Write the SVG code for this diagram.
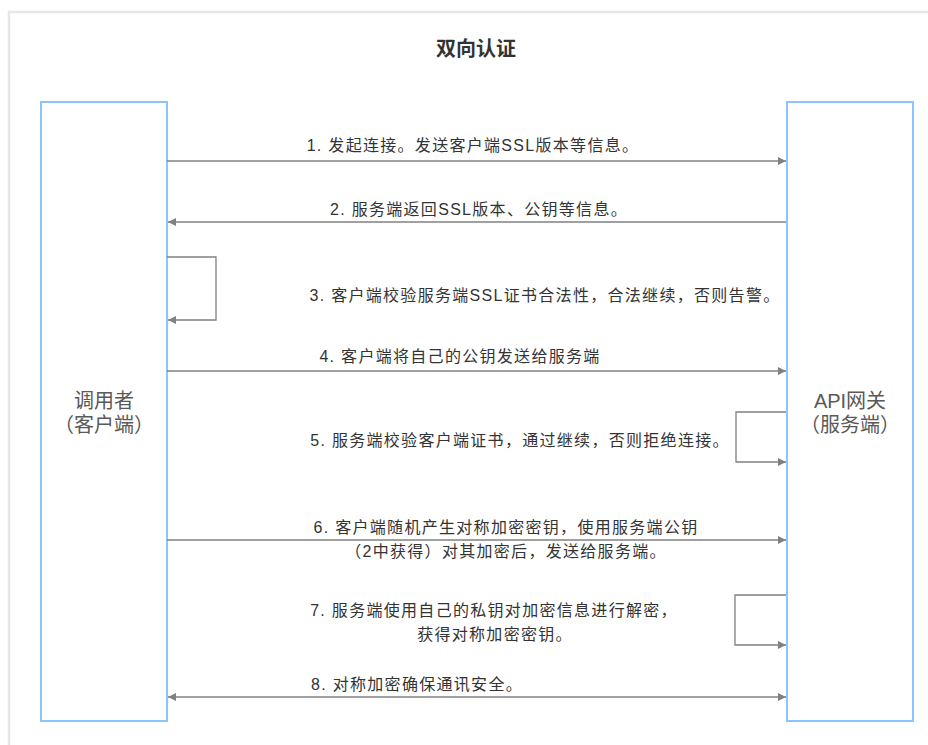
<svg xmlns="http://www.w3.org/2000/svg" width="928" height="745" viewBox="0 0 928 745">
<defs>
<style>
.t{font-family:"Liberation Sans","Noto Sans CJK SC",sans-serif;font-size:16px;letter-spacing:1.3px;fill:#333;text-anchor:middle}
.n{font-family:"Liberation Sans","Noto Sans CJK SC",sans-serif;font-size:20px;fill:#595959;text-anchor:middle}
.box{fill:#fff;stroke:#8cc4ff;stroke-width:2}
.ln{fill:none;stroke:#808080;stroke-width:1.3}
</style>
<marker id="ah" viewBox="0 0 10 10" refX="10" refY="5" markerWidth="8" markerHeight="8" markerUnits="userSpaceOnUse" orient="auto-start-reverse"><path d="M0,0 L10,5 L0,10 z" fill="#808080"/></marker>
</defs>
<rect x="0" y="0" width="928" height="745" fill="#fff"/>
<rect x="9" y="12" width="930" height="740" fill="#fff" stroke="#e6e6e6" stroke-width="2.5"/>
<text x="476" y="56" font-family="'Liberation Sans','Noto Sans CJK SC',sans-serif" font-size="20" font-weight="bold" fill="#333" text-anchor="middle">双向认证</text>
<g id="client">
<rect class="box" x="41" y="102" width="126" height="619"/>
<text class="n" x="104" y="408">调用者</text>
<text class="n" x="104" y="432">（客户端）</text>
</g>
<g id="gateway">
<rect class="box" x="787" y="102" width="126" height="619"/>
<text class="n" x="850" y="408">API网关</text>
<text class="n" x="850" y="432">（服务端）</text>
</g>
<g id="connectors">
<line class="ln" x1="167" y1="161" x2="786" y2="161" marker-end="url(#ah)"/>
<line class="ln" x1="786" y1="222" x2="168" y2="222" marker-end="url(#ah)"/>
<polyline class="ln" points="167,257 216,257 216,320 168,320" marker-end="url(#ah)"/>
<line class="ln" x1="167" y1="371" x2="786" y2="371" marker-end="url(#ah)"/>
<polyline class="ln" points="786,412 736,412 736,462 786,462" marker-end="url(#ah)"/>
<line class="ln" x1="167" y1="540" x2="786" y2="540" marker-end="url(#ah)"/>
<polyline class="ln" points="786,595 735,595 735,645 786,645" marker-end="url(#ah)"/>
<line class="ln" x1="168" y1="697" x2="786" y2="697" marker-start="url(#ah)" marker-end="url(#ah)"/>
</g>
<g id="labels">
<text class="t" x="473" y="151">1. 发起连接。发送客户端SSL版本等信息。</text>
<text class="t" x="479" y="215">2. 服务端返回SSL版本、公钥等信息。</text>
<text class="t" x="545" y="301">3. 客户端校验服务端SSL证书合法性，合法继续，否则告警。</text>
<text class="t" x="460" y="362">4. 客户端将自己的公钥发送给服务端</text>
<text class="t" x="520" y="446">5. 服务端校验客户端证书，通过继续，否则拒绝连接。</text>
<text class="t" x="506" y="533">6. 客户端随机产生对称加密密钥，使用服务端公钥</text>
<text class="t" x="506" y="557">（2中获得）对其加密后，发送给服务端。</text>
<text class="t" x="494" y="616">7. 服务端使用自己的私钥对加密信息进行解密，</text>
<text class="t" x="495" y="640">获得对称加密密钥。</text>
<text class="t" x="417" y="690">8. 对称加密确保通讯安全。</text>
</g>
</svg>
